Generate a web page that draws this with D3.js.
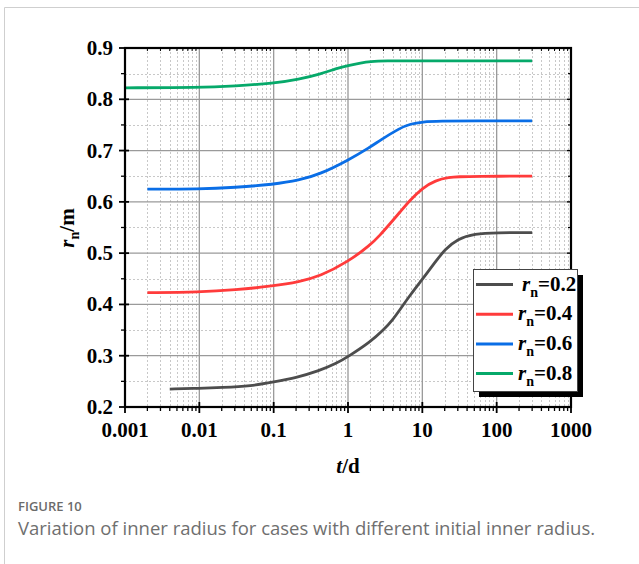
<!DOCTYPE html>
<html>
<head>
<meta charset="utf-8">
<script src="https://cdn.jsdelivr.net/npm/d3@7"></script>
<style>
  html, body { margin: 0; padding: 0; background: #fff; }
  svg { display: block; }
  .tick-label { font-family: "Liberation Serif", "Times New Roman", serif; font-weight: bold; font-size: 21px; fill: #000; }
  .caption { font-family: "Open Sans", "Noto Sans", sans-serif; }
</style>
</head>
<body>
<svg id="chart" width="639" height="564"></svg>
<script>
/*
  inner radius vs time, log x axis
*/

// series data
var tBlack = [0.004, 0.01, 0.02, 0.05, 0.1, 0.2, 0.4, 0.7, 1, 2, 3, 4, 5, 7, 10, 15, 20, 30, 50, 100, 300];
var rBlack = [0.235, 0.2365, 0.238, 0.241, 0.249, 0.257, 0.27, 0.285, 0.298, 0.327, 0.35, 0.37, 0.39, 0.42, 0.449, 0.483, 0.507, 0.528, 0.538, 0.540, 0.540];

var tRed = [0.002, 0.01, 0.03, 0.1, 0.22, 0.42, 1, 2, 2.7, 3.7, 5, 6.8, 10, 15, 23, 31, 50, 300];
var rRed = [0.423, 0.424, 0.428, 0.436, 0.444, 0.455, 0.483, 0.516, 0.535, 0.558, 0.58, 0.603, 0.627, 0.642, 0.648, 0.649, 0.650, 0.650];

var tBlue = [0.002, 0.01, 0.03, 0.1, 0.22, 0.42, 1, 2, 2.7, 5, 6.9, 10, 17, 50, 300];
var rBlue = [0.625, 0.625, 0.628, 0.634, 0.642, 0.654, 0.681, 0.707, 0.72, 0.744, 0.752, 0.756, 0.7575, 0.758, 0.758];

var tGreen = [0.001, 0.01, 0.03, 0.1, 0.22, 0.42, 0.7, 1, 1.5, 2, 3, 10, 300];
var rGreen = [0.8224, 0.823, 0.826, 0.831, 0.839, 0.849, 0.86, 0.866, 0.871, 0.8735, 0.875, 0.875, 0.875];

var seriesNames = ["0.2", "0.4", "0.6", "0.8"];
var seriesColors = ["#4d4d4d", "#ff3b3b", "#0a6ee6", "#06a96a"];

var xTicks = [0.001, 0.01, 0.1, 1, 10, 100, 1000];
var xTickLabels = ["0.001", "0.01", "0.1", "1", "10", "100", "1000"];
var yTicks = [0.2, 0.3, 0.4, 0.5, 0.6, 0.7, 0.8, 0.9];
var yMinorTicks = [0.25, 0.35, 0.45, 0.55, 0.65, 0.75, 0.85];

var series = [
  {name: seriesNames[0], color: seriesColors[0], t: tBlack, r: rBlack},
  {name: seriesNames[1], color: seriesColors[1], t: tRed, r: rRed},
  {name: seriesNames[2], color: seriesColors[2], t: tBlue, r: rBlue},
  {name: seriesNames[3], color: seriesColors[3], t: tGreen, r: rGreen}
];

var svg = d3.select("#chart");

// card frame
svg.append("path")
  .attr("d", "M4.5,564 V7.5 H639")
  .attr("fill", "none")
  .attr("stroke", "#cfcfcf")
  .attr("stroke-width", 1);

var pLeft = 125, pRight = 571, pTop = 48, pBottom = 407;

var x = d3.scaleLog().domain([0.001, 1000]).range([pLeft, pRight]);
var y = d3.scaleLinear().domain([0.2, 0.9]).range([pBottom, pTop]);

// minor x values (2..9 per decade)
var xMinor = [];
for (var k = -3; k < 3; k++) {
  for (var m = 2; m <= 9; m++) {
    xMinor.push(m * Math.pow(10, k));
  }
}

var grid = svg.append("g");

// minor grid, dotted
grid.selectAll(".gx-minor").data(xMinor).enter().append("line")
  .attr("x1", function(d) { return Math.round(x(d)) + 0.5; })
  .attr("x2", function(d) { return Math.round(x(d)) + 0.5; })
  .attr("y1", pTop).attr("y2", pBottom)
  .attr("stroke", "#c8c8c8").attr("stroke-width", 1)
  .attr("stroke-dasharray", "2,2");
grid.selectAll(".gy-minor").data(yMinorTicks).enter().append("line")
  .attr("x1", pLeft).attr("x2", pRight)
  .attr("y1", function(d) { return Math.round(y(d)) + 0.5; })
  .attr("y2", function(d) { return Math.round(y(d)) + 0.5; })
  .attr("stroke", "#c8c8c8").attr("stroke-width", 1)
  .attr("stroke-dasharray", "2,2");

// major grid, solid
grid.selectAll(".gx").data(xTicks.slice(1, -1)).enter().append("line")
  .attr("x1", function(d) { return x(d); })
  .attr("x2", function(d) { return x(d); })
  .attr("y1", pTop).attr("y2", pBottom)
  .attr("stroke", "#9a9a9a").attr("stroke-width", 1.3);
grid.selectAll(".gy").data(yTicks.slice(1, -1)).enter().append("line")
  .attr("x1", pLeft).attr("x2", pRight)
  .attr("y1", function(d) { return y(d); })
  .attr("y2", function(d) { return y(d); })
  .attr("stroke", "#9a9a9a").attr("stroke-width", 1.3);

// curves
var line = d3.line()
  .x(function(d) { return x(d[0]); })
  .y(function(d) { return y(d[1]); })
  .curve(d3.curveBasis);

svg.selectAll(".curve").data(series).enter().append("path")
  .attr("d", function(s) { return line(d3.zip(s.t, s.r)); })
  .attr("fill", "none")
  .attr("stroke", function(s) { return s.color; })
  .attr("stroke-width", 2.8);

// frame
svg.append("rect")
  .attr("x", pLeft).attr("y", pTop)
  .attr("width", pRight - pLeft).attr("height", pBottom - pTop)
  .attr("fill", "none").attr("stroke", "#000").attr("stroke-width", 2.2);

var ticks = svg.append("g").attr("stroke", "#000");

// bottom ticks
xTicks.forEach(function(d) {
  ticks.append("line").attr("x1", x(d)).attr("x2", x(d))
    .attr("y1", pBottom - 5).attr("y2", pBottom + 6).attr("stroke-width", 1.8);
});
xMinor.forEach(function(d) {
  ticks.append("line").attr("x1", x(d)).attr("x2", x(d))
    .attr("y1", pBottom).attr("y2", pBottom + 4).attr("stroke-width", 1.3);
  ticks.append("line").attr("x1", x(d)).attr("x2", x(d))
    .attr("y1", pTop).attr("y2", pTop + 3).attr("stroke-width", 1);
});
// left / right ticks
yTicks.forEach(function(d) {
  ticks.append("line").attr("x1", pLeft - 6).attr("x2", pLeft + 4)
    .attr("y1", y(d)).attr("y2", y(d)).attr("stroke-width", 1.8);
  ticks.append("line").attr("x1", pRight - 4).attr("x2", pRight)
    .attr("y1", y(d)).attr("y2", y(d)).attr("stroke-width", 1.3);
});
yMinorTicks.forEach(function(d) {
  ticks.append("line").attr("x1", pLeft - 4).attr("x2", pLeft)
    .attr("y1", y(d)).attr("y2", y(d)).attr("stroke-width", 1.3);
  ticks.append("line").attr("x1", pRight - 3).attr("x2", pRight)
    .attr("y1", y(d)).attr("y2", y(d)).attr("stroke-width", 1.2);
});

// tick labels
svg.selectAll(".xl").data(xTicks).enter().append("text")
  .attr("class", "tick-label")
  .attr("x", function(d) { return x(d); })
  .attr("y", 437)
  .attr("text-anchor", "middle")
  .text(function(d, i) { return xTickLabels[i]; });

svg.selectAll(".yl").data(yTicks).enter().append("text")
  .attr("class", "tick-label")
  .attr("x", 113)
  .attr("y", function(d) { return y(d) + 7; })
  .attr("text-anchor", "end")
  .text(function(d) { return d.toFixed(1); });

// axis titles
var xt = svg.append("text").attr("class", "tick-label")
  .attr("x", 348).attr("y", 473).attr("text-anchor", "middle");
xt.append("tspan").attr("font-style", "italic").text("t");
xt.append("tspan").text("/d");

var yt = svg.append("text").attr("class", "tick-label")
  .attr("transform", "translate(74,228) rotate(-90)")
  .attr("text-anchor", "middle");
yt.append("tspan").attr("font-style", "italic").text("r");
yt.append("tspan").attr("dy", 5).attr("font-size", 14).text("n");
yt.append("tspan").attr("dy", -5).text("/m");

// legend
var lg = svg.append("g");
lg.append("rect").attr("x", 479).attr("y", 275).attr("width", 104).attr("height", 122).attr("fill", "#000");
lg.append("rect").attr("x", 473.5).attr("y", 269.5).attr("width", 104).attr("height", 122)
  .attr("fill", "#fff").attr("stroke", "#444").attr("stroke-width", 1);

series.forEach(function(s, i) {
  var ly = 284.5 + i * 29.7;
  lg.append("line").attr("x1", 476).attr("x2", 513)
    .attr("y1", ly).attr("y2", ly)
    .attr("stroke", s.color).attr("stroke-width", 3);
  var t = lg.append("text").attr("class", "tick-label")
    .attr("x", i === 0 ? 522 : 518).attr("y", ly + 6);
  t.append("tspan").attr("font-style", "italic").text("r");
  t.append("tspan").attr("dy", 6).attr("font-size", 14).text("n");
  t.append("tspan").attr("dy", -6).text("=" + s.name);
});

// caption
svg.append("text").attr("class", "caption")
  .attr("x", 18).attr("y", 511)
  .attr("font-size", 13).attr("font-weight", 600).attr("fill", "#6b6b6b")
  .text("FIGURE 10");
svg.append("text").attr("class", "caption")
  .attr("x", 18).attr("y", 535)
  .attr("font-size", 18.5).attr("fill", "#6f6f6f")
  .text("Variation of inner radius for cases with different initial inner radius.");
</script>
</body>
</html>
